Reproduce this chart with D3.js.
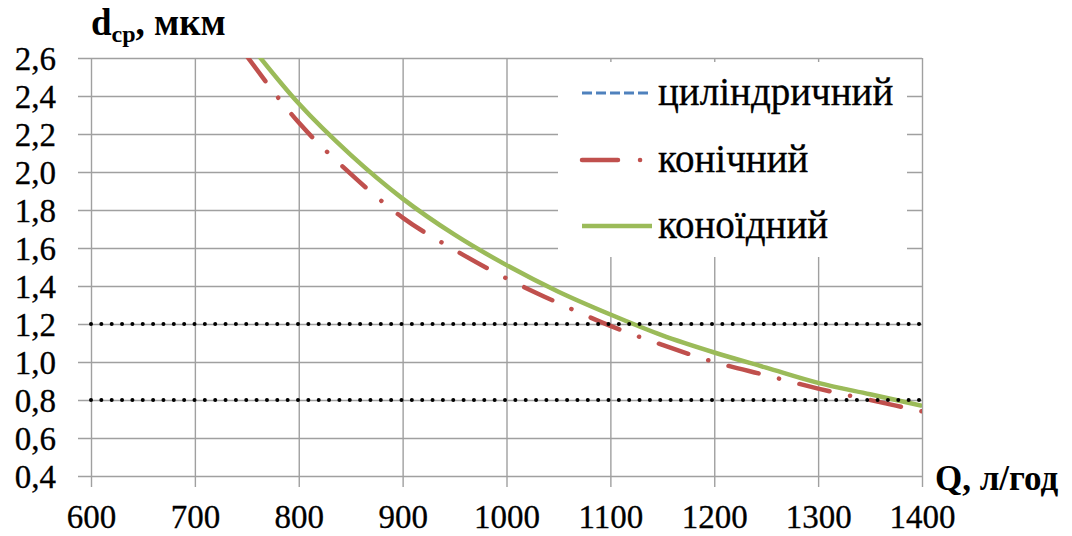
<!DOCTYPE html>
<html>
<head>
<meta charset="utf-8">
<script src="https://cdn.jsdelivr.net/npm/d3@7"></script>
<style>
  html, body { margin: 0; padding: 0; background: #fff; }
  svg { display: block; }
</style>
</head>
<body>
<svg id="chart" width="1072" height="536"></svg>
<script>
// Flow rate Q, l/h
const flow = [750, 800, 850, 900, 950, 1000, 1050, 1100, 1150, 1200, 1250, 1300, 1350, 1400];
// Mean droplet diameter, µm, per nozzle type
const cylindrical = [2.69, 2.36, 2.09, 1.86, 1.67, 1.51, 1.37, 1.25, 1.14, 1.05, 0.97, 0.89, 0.83, 0.77];
const conical     = [2.61, 2.26, 1.99, 1.76, 1.59, 1.44, 1.31, 1.19, 1.09, 1.00, 0.93, 0.86, 0.80, 0.74];
const conoidal    = [2.69, 2.36, 2.09, 1.86, 1.67, 1.51, 1.37, 1.25, 1.14, 1.05, 0.97, 0.89, 0.83, 0.77];
// Reference levels
const refLevels = [1.2, 0.8];

const xTicks = [600, 700, 800, 900, 1000, 1100, 1200, 1300, 1400];
const yTicks = [0.4, 0.6, 0.8, 1.0, 1.2, 1.4, 1.6, 1.8, 2.0, 2.2, 2.4, 2.6];
const yTickLabels = ["0,4", "0,6", "0,8", "1,0", "1,2", "1,4", "1,6", "1,8", "2,0", "2,2", "2,4", "2,6"];
const seriesNames = ["циліндричний", "конічний", "коноїдний"];

const svg = d3.select("#chart");
const plotLeft = 91, plotRight = 922, plotTop = 58, plotBottom = 476;
const serif = '"Liberation Serif", Tinos, "Times New Roman", serif';

const x = d3.scaleLinear().domain([600, 1400]).range([plotLeft, plotRight]);
const y = d3.scaleLinear().domain([0.4, 2.6]).range([plotBottom, plotTop]);

const gridColor = "#a0a0a0";
const colors = { blue: "#4F81BD", red: "#C0504D", green: "#9BBB59" };

// Horizontal grid + y labels (lines reach a little left of the plot)
const yAxis = svg.append("g")
  .attr("transform", `translate(${plotLeft - 13},0)`)
  .call(d3.axisLeft(y)
    .tickValues(yTicks)
    .tickSizeInner(-(plotRight - plotLeft + 13))
    .tickSizeOuter(0)
    .tickPadding(22)
    .tickFormat((d, i) => yTickLabels[i]));
yAxis.select(".domain").remove();
yAxis.selectAll(".tick line").attr("stroke", gridColor).attr("stroke-width", 1.4);
yAxis.selectAll(".tick text")
  .style("font-family", serif).style("font-weight", "400")
  .attr("font-size", 33).attr("fill", "#000")
  .attr("stroke", "#000").attr("stroke-width", 0.3)
  .attr("dy", "0.34em");

// Vertical grid + x labels (lines reach a little below the plot)
const xAxis = svg.append("g")
  .attr("transform", `translate(0,${plotBottom + 11})`)
  .call(d3.axisBottom(x)
    .tickValues(xTicks)
    .tickSizeInner(-(plotBottom - plotTop + 11))
    .tickSizeOuter(0)
    .tickPadding(18)
    .tickFormat(d3.format("d")));
xAxis.select(".domain").remove();
xAxis.selectAll(".tick line").attr("stroke", gridColor).attr("stroke-width", 1.4);
xAxis.selectAll(".tick text")
  .style("font-family", serif).style("font-weight", "400")
  .attr("font-size", 33).attr("fill", "#000")
  .attr("stroke", "#000").attr("stroke-width", 0.3)
  .attr("dy", "0.71em");

// Clip for the curves
svg.append("clipPath").attr("id", "plot-clip")
  .append("rect").attr("x", plotLeft).attr("y", plotTop)
  .attr("width", plotRight - plotLeft).attr("height", plotBottom - plotTop);

const line = d3.line()
  .x(d => x(d[0]))
  .y(d => y(d[1]))
  .curve(d3.curveMonotoneX);

const plot = svg.append("g").attr("clip-path", "url(#plot-clip)");

plot.append("path")
  .datum(flow.map((q, i) => [q, cylindrical[i]]))
  .attr("d", line).attr("fill", "none")
  .attr("stroke", colors.blue).attr("stroke-width", 3)
  .attr("stroke-dasharray", "10,4");

plot.append("path")
  .datum(flow.map((q, i) => [q, conical[i]]))
  .attr("d", line).attr("fill", "none")
  .attr("stroke", colors.red).attr("stroke-width", 4.5)
  .attr("stroke-linecap", "round")
  .attr("stroke-dasharray", "31,21,0.1,21");

plot.append("path")
  .datum(flow.map((q, i) => [q, conoidal[i]]))
  .attr("d", line).attr("fill", "none")
  .attr("stroke", colors.green).attr("stroke-width", 4.5);

// Dotted reference levels
svg.append("g").selectAll("line")
  .data(refLevels).join("line")
  .attr("x1", x(600)).attr("x2", x(1400))
  .attr("y1", d => y(d)).attr("y2", d => y(d))
  .attr("stroke", "#000").attr("stroke-width", 4)
  .attr("stroke-linecap", "round")
  .attr("stroke-dasharray", "0,10.35");

// Legend
const legend = svg.append("g");
legend.append("rect")
  .attr("x", 558).attr("y", 62).attr("width", 349).attr("height", 195)
  .attr("fill", "#fff");
const rowsY = [93, 160, 226];
const styles = [
  { stroke: colors.blue, width: 3, dash: "10,4", cap: "butt", x2: 652 },
  { stroke: colors.red, width: 4.5, dash: "36,22,0.1,30", cap: "round", x2: 641 },
  { stroke: colors.green, width: 4.5, dash: null, cap: "butt", x2: 652 }
];
seriesNames.forEach((name, i) => {
  const s = styles[i];
  legend.append("line")
    .attr("x1", 582).attr("x2", s.x2)
    .attr("y1", rowsY[i]).attr("y2", rowsY[i])
    .attr("stroke", s.stroke).attr("stroke-width", s.width)
    .attr("stroke-linecap", s.cap)
    .attr("stroke-dasharray", s.dash);
  legend.append("text")
    .attr("x", 658).attr("y", rowsY[i] + 12)
    .style("font-family", serif).style("font-weight", "400")
    .attr("font-size", 39).attr("fill", "#000")
    .attr("stroke", "#000").attr("stroke-width", 0.3)
    .text(name);
});

// Axis titles
const yTitle = svg.append("text")
  .attr("x", 91).attr("y", 35)
  .style("font-family", serif).style("font-weight", "700")
  .attr("font-size", 37).attr("fill", "#000");
yTitle.append("tspan").text("d");
yTitle.append("tspan").attr("font-size", 24).attr("dy", 7).text("ср");
yTitle.append("tspan").attr("dy", -7).text(", мкм");

svg.append("text")
  .attr("x", 935).attr("y", 490)
  .style("font-family", serif).style("font-weight", "700")
  .attr("font-size", 35).attr("fill", "#000")
  .text("Q, л/год");
</script>
</body>
</html>
